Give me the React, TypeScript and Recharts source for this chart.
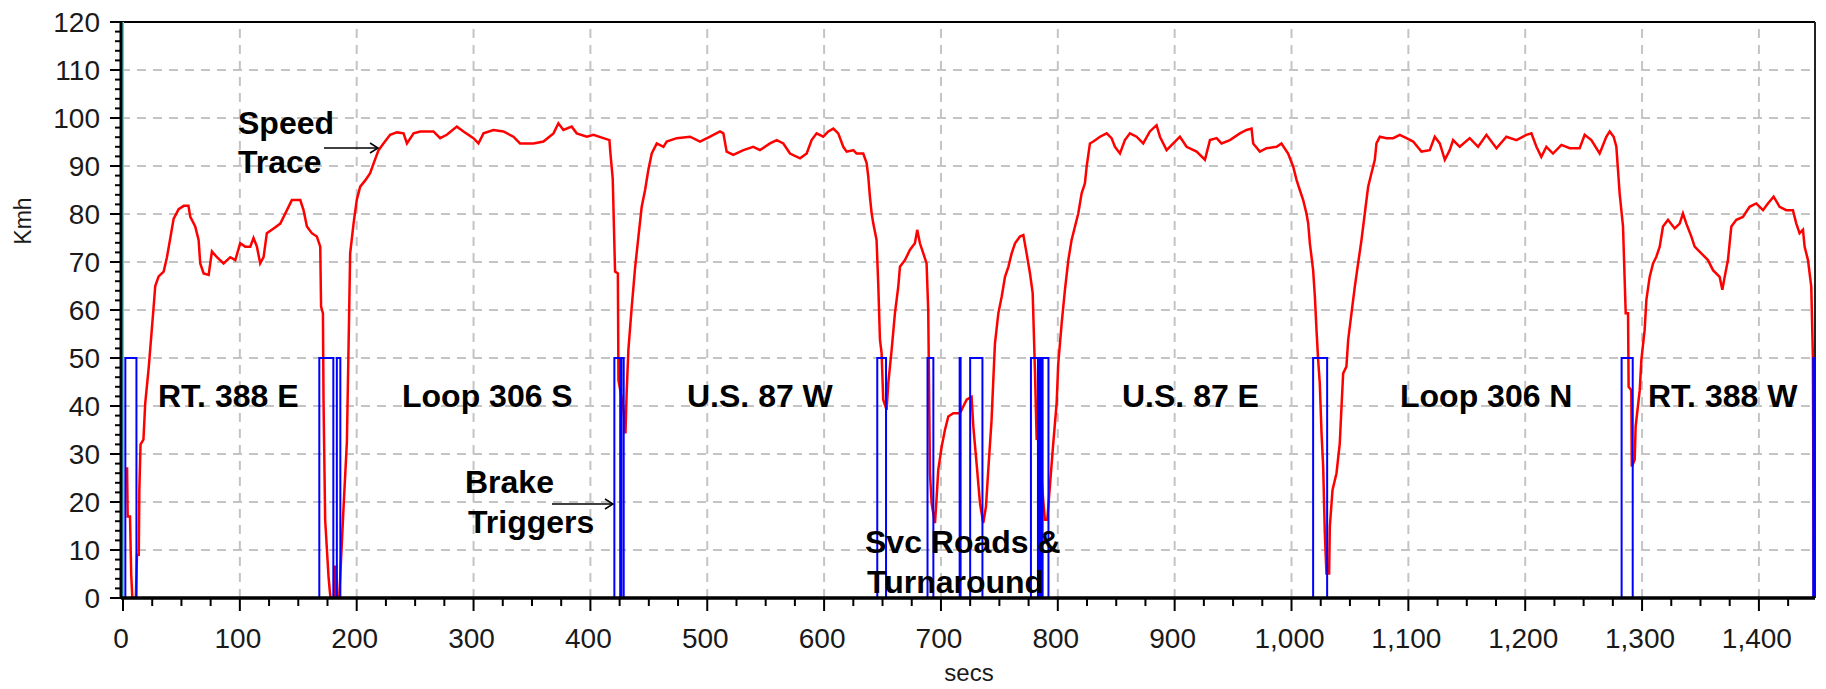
import { LineChart, Line, XAxis, YAxis, ReferenceLine } from 'recharts';

const FONT = "'Liberation Sans', Arial, Helvetica, sans-serif";

// speed trace, [secs, kmh], split by road section
const rt388E: [number, number][] = [
  [2.5, 27], [3.5, 27], [4, 17], [6, 17], [7, 5], [8, 0], [11, 0], [12, 9], [13.5, 9], [14, 22.5],
  [15, 32], [17.5, 33], [19, 40.5], [22, 48], [24, 54], [26, 60], [27.6, 65], [30.5, 67], [34.8, 68],
  [37.6, 71], [40.5, 75], [43.3, 79], [47.6, 81], [52, 81.7], [56, 81.7], [57.6, 79.4], [61.8, 77.4],
  [64.7, 74.6], [66.1, 69.7], [69, 67.6], [73.3, 67.3], [76.1, 72.2], [80.4, 71], [86.1, 69.7],
  [91.8, 71], [96.1, 70.4], [100.3, 73.9], [104.6, 73.2], [108.9, 73.2], [111.7, 75], [114.6, 73.2],
  [117.4, 69.7], [120.3, 71], [123.1, 76], [128.9, 77], [134.6, 78], [140.3, 80.8], [144.5, 82.9],
  [151.7, 82.9], [154.5, 80.8], [157.4, 77.4], [161.6, 76], [165.9, 75.3], [168.8, 73.2], [169.5, 60.7],
  [171.1, 59.3], [171.6, 41.3], [173, 16.3], [175.9, 4.4], [177, 1.4], [177.6, 0], [181, 0], [181.6, 6.5],
  [182.5, 6.5], [182.8, 0], [185, 0], [185.9, 4.4], [188.7, 18.7], [191.6, 32.5], [193, 52], [194.4, 71.8],
  [197.3, 78],
];

const loop306S: [number, number][] = [
  [200.1, 83], [203, 85.7], [207.3, 87], [211.5, 88.5], [214.4, 90.5], [218.7, 93.3], [222.9, 94.7],
  [228.6, 96.5], [234.4, 97], [240.1, 96.8], [243, 94.7], [248.7, 96.8], [254.3, 97.2], [265.7, 97.2],
  [271.4, 95.8], [277.1, 96.5], [285.7, 98.2], [291.4, 97.2], [299.9, 95.8], [304.2, 94.7], [308.5, 96.8],
  [317, 97.5], [325.6, 97.2], [334.1, 96.1], [339.8, 94.7], [351.3, 94.7], [359.8, 95.1], [368.4, 96.8],
  [372.6, 98.9], [376.9, 97.5], [384, 98.2], [388.3, 96.8], [396.9, 96.1], [402.6, 96.5], [411.1, 95.8],
  [416.3, 95.4], [417, 93], [419.1, 87.4], [421.1, 68], [423.5, 67.6], [424, 45.4], [428, 40], [430, 34.3],
  [431, 42.6], [432.5, 51.7], [435.4, 60.7], [438.2, 68.7], [441.1, 75.3], [443.9, 81.5], [446.8, 85],
  [449.6, 89.2], [452.5, 92.6], [456.8, 94.7],
];

const us87W: [number, number][] = [
  [462.5, 94], [465.3, 95.1], [473.9, 95.8], [485.3, 96.1], [493.8, 95.1], [502.4, 96.1], [510.9, 97.2],
  [513.8, 96.8], [516.6, 93], [522.3, 92.3], [530.9, 93.3], [539.4, 94], [545.1, 93.3], [553.7, 94.7],
  [559.4, 95.4], [565.1, 94.7], [570.8, 92.6], [579.4, 91.6], [585.1, 92.6], [589.3, 95.4], [593.6, 96.8],
  [599.3, 96.1], [603.6, 97.2], [607.9, 97.8], [612.1, 96.8], [616.4, 94], [619.3, 93], [625, 93.3],
  [627.8, 92.6], [633.5, 92.6], [636.4, 90.6], [637.8, 87.8], [639.2, 83.6], [640.7, 80.1], [642.1, 78],
  [644.9, 74.6],
];

const svcRoads: [number, number][] = [
  [646.4, 64.9], [647.8, 53.8], [649.2, 51], [650.6, 41.3], [653.5, 39.2], [654.9, 44.7], [657.8, 51.7],
  [660.6, 59.3], [663.5, 64.9], [664.9, 69], [669.2, 70.4], [673.4, 72.5], [677.7, 73.9], [679.7, 76.7],
  [682, 73.9], [684.9, 71.8], [687.7, 69.7], [689.1, 60], [690.6, 26], [692, 19.7], [694.9, 15.6],
  [696, 19.7], [697.7, 26.7], [700.6, 31.5], [703.4, 35], [706.3, 37.8], [710.6, 38.5], [716.3, 38.5],
  [719.1, 39.9], [722, 41.3], [726.2, 41.9], [727.7, 35.7], [730.5, 28], [733.4, 19.7], [736.2, 15.6],
  [738.5, 19], [740.5, 26.7], [743.3, 37], [744.8, 45.4], [746.2, 53], [749.1, 59.3], [752, 62.8],
  [754.8, 66.9], [757.7, 69], [760.5, 71.8], [763.4, 73.9], [767.6, 75.3], [770.5, 75.6], [773.3, 71.8],
  [776.2, 67.6], [778.5, 63.5], [780.5, 46.8], [781.9, 32.9], [784, 40], [786, 25], [788.9, 16.3],
  [791, 16.3], [793.2, 23.2], [796.1, 32.2], [799, 40.6],
];

const us87E: [number, number][] = [
  [800.4, 48.9], [803.3, 57.2], [806.1, 64.2], [809, 70.4], [811.8, 74.6], [814.7, 77.4], [817.5, 80.1],
  [820.4, 84.3], [823.2, 86.4], [824.7, 89.9], [827.5, 94.7], [830.4, 95.1], [836.1, 96.1], [841.8, 96.8],
  [846, 95.8], [848.9, 94], [853.2, 92.6], [857.4, 95.4], [861.7, 96.8], [867.4, 96.1], [873.1, 94.7],
  [878.8, 97.2], [884.5, 98.5], [887.4, 96.1], [893.1, 93.3], [898.8, 94.7], [904.5, 96.1], [910.2, 94],
  [918.8, 93], [925.9, 91.3], [930.2, 95.4], [935.9, 95.8], [940.1, 94.7], [947.3, 95.4], [955.8, 96.8],
  [961.5, 97.5], [965.8, 97.8], [967.2, 94.7], [972.9, 93], [978.6, 93.7], [987.2, 94], [991.4, 94.7],
  [997.1, 92.6], [1001.4, 89.9], [1004.3, 87.1], [1007.1, 85], [1010, 82.9], [1012.8, 80.1], [1014.3, 78],
  [1015.7, 73.9], [1018.5, 68.3], [1020, 62.8], [1021.4, 55.8], [1022.8, 49.6], [1024.2, 44.7],
  [1025.7, 34.3], [1027.1, 27.4], [1028.5, 13.5], [1029.9, 5.1], [1032.2, 5.1],
];

const loop306N: [number, number][] = [
  [1032.8, 14.9], [1035.1, 22.5], [1038.5, 26], [1041.3, 32.2], [1042.8, 39.9], [1044.2, 46.8],
  [1047, 48.2], [1048.5, 53.8], [1051.3, 59.3], [1054.2, 64.9], [1057, 69.7], [1059.9, 74.6],
  [1062.7, 80.1], [1065.6, 85.7], [1068.4, 88.5], [1071.3, 91.3], [1072.7, 94.7], [1075.6, 96.1],
  [1081.3, 95.8], [1087, 95.8], [1092.7, 96.5], [1098.4, 95.8], [1104.1, 95.1], [1111.2, 93],
  [1118.3, 93.3], [1122.6, 96.1], [1126.9, 94.7], [1131.2, 91.3], [1135.4, 93.3], [1138.3, 95.4],
  [1144, 94], [1152.5, 95.8], [1159.7, 94], [1166.8, 96.5], [1175.4, 93.7], [1183.9, 96.1],
  [1192.5, 95.4], [1201, 96.5], [1205.3, 96.8], [1209.6, 94], [1213.8, 91.9], [1218.1, 94],
  [1223.8, 92.6], [1231, 94.4], [1238.1, 93.7], [1246.6, 93.7], [1250.9, 96.5], [1256.6, 95.4],
  [1263.7, 92.6], [1269.4, 96.1], [1272.3, 97.2], [1275.7, 96.1], [1278, 94], [1279.4, 89.2],
  [1280.8, 84.3], [1283.7, 77.4], [1286, 59.3], [1288, 59.3],
];

const rt388W: [number, number][] = [
  [1288.5, 44], [1290.8, 43.3], [1291.2, 27.4], [1293.7, 28.8], [1294.5, 35.7], [1298, 43.3],
  [1299.4, 49.6], [1302.2, 55.8], [1303.7, 62.1], [1306.5, 66.9], [1309.4, 69.7], [1312.2, 71.1],
  [1315.1, 73.2], [1317.9, 77.4], [1322.2, 78.8], [1327.9, 77], [1332.2, 78], [1335, 80.1],
  [1337.9, 78], [1342.2, 75.3], [1345, 73.2], [1350.7, 71.8], [1356.4, 70.4], [1360.7, 68.3],
  [1366.4, 66.9], [1368.7, 64.2], [1370.7, 66.9], [1373.5, 70.4], [1376.4, 77.4], [1380.7, 78.8],
  [1386.3, 79.4], [1392, 81.5], [1397.7, 82.2], [1403.5, 80.8], [1407.7, 82.2], [1412.6, 83.6],
  [1417.7, 81.5], [1423.4, 80.8], [1429.1, 80.8], [1432, 78], [1434.8, 76], [1437.7, 76.7],
  [1439.1, 73.2], [1442, 70.4], [1444.8, 64.9], [1446.2, 50.3], [1447, 0],
];

// brake trigger pulses (secs on / secs off), drawn at a fixed level
const brakeOn = [2, 168, 183, 420.5, 426.5, 645.5, 688.5, 716, 725, 777, 784.5, 787, 1018.5, 1282.5, 1446.5];
const brakeOff = [11.5, 180, 186, 425.5, 428.5, 653, 693.5, 716.8, 735.5, 783, 786, 792, 1030.5, 1292, 1448];
const brakeLevel = 50;

const xMax = 1448;
const xGrid = [100, 200, 300, 400, 500, 600, 700, 800, 900, 1000, 1100, 1200, 1300, 1400];
const yGrid = [10, 20, 30, 40, 50, 60, 70, 80, 90, 100, 110];

const sectionLabels = ['RT. 388 E', 'Loop 306 S', 'U.S. 87 W', 'U.S. 87 E', 'Loop 306 N', 'RT. 388 W'];

const speedData = [...rt388E, ...loop306S, ...us87W, ...svcRoads, ...us87E, ...loop306N, ...rt388W].map(
  ([secs, kmh]) => ({ secs, kmh })
);

const brakeData: { secs: number; kmh: number }[] = [{ secs: 0, kmh: 0 }];
brakeOn.forEach((s, i) => {
  brakeData.push({ secs: s, kmh: brakeLevel });
  brakeData.push({ secs: brakeOff[i], kmh: 0 });
});

const xTicks: number[] = [];
for (let v = 0; v < xMax; v += 25) xTicks.push(v);
const yTicks: number[] = [];
for (let v = 0; v <= 120; v += 2) yTicks.push(v);

const XTick = ({ x, y, payload }: any) => {
  const major = payload.value % 100 === 0;
  return (
    <g>
      <line x1={x} y1={y} x2={x} y2={y + (major ? 13 : 8)} stroke="#000" strokeWidth={2} />
      {major && (
        <text x={x - 2} y={y + 50} textAnchor="middle" fontSize={28} fontFamily={FONT} fill="#1a1a1a">
          {payload.value.toLocaleString('en-US')}
        </text>
      )}
    </g>
  );
};

const YTick = ({ x, y, payload }: any) => {
  const major = payload.value % 10 === 0;
  return (
    <g>
      <line x1={x} y1={y} x2={x - (major ? 11 : 6)} y2={y} stroke="#000" strokeWidth={2} />
      {major && (
        <text x={x - 21} y={y} dy="0.36em" textAnchor="end" fontSize={28} fontFamily={FONT} fill="#1a1a1a">
          {payload.value}
        </text>
      )}
    </g>
  );
};

const boldText = { fontSize: 32, fontWeight: 700, fontFamily: FONT, fill: '#000' } as const;
const sectionX = [158, 402, 687, 1122, 1400, 1648];

export default function App() {
  return (
    <div style={{ position: 'absolute', left: 0, top: 0, width: 1826, height: 689, background: '#fff' }}>
      <LineChart width={1826} height={689} margin={{ top: 22, right: 11, bottom: 0, left: 0 }}>
        <XAxis
          type="number"
          dataKey="secs"
          domain={[0, xMax]}
          ticks={xTicks}
          interval={0}
          padding={{ left: 2, right: 0 }}
          height={91}
          tickSize={0}
          tickMargin={0}
          tickLine={false}
          axisLine={{ stroke: '#000', strokeWidth: 3 }}
          tick={(p: any) => <XTick {...p} />}
          allowDataOverflow
        />
        <YAxis
          type="number"
          domain={[0, 120]}
          ticks={yTicks}
          interval={0}
          width={121}
          tickSize={0}
          tickMargin={0}
          tickLine={false}
          axisLine={{ stroke: '#000', strokeWidth: 3 }}
          tick={(p: any) => <YTick {...p} />}
          allowDataOverflow
        />
        {xGrid.map((v) => (
          <ReferenceLine key={'gx' + v} x={v} stroke="#c4c4c4" strokeWidth={2} strokeDasharray="9 7" />
        ))}
        {yGrid.map((v) => (
          <ReferenceLine key={'gy' + v} y={v} stroke="#c4c4c4" strokeWidth={2} strokeDasharray="9 7" />
        ))}
        <ReferenceLine y={120} stroke="#000" strokeWidth={2} />
        <ReferenceLine x={xMax} stroke="#222" strokeWidth={2} />
        <ReferenceLine x={0} stroke="#33e2e8" strokeWidth={2} />
        <Line
          data={speedData}
          dataKey="kmh"
          type="linear"
          stroke="#ff0000"
          strokeWidth={2.5}
          dot={false}
          isAnimationActive={false}
        />
        <Line
          data={brakeData}
          dataKey="kmh"
          type="stepAfter"
          stroke="#0000ff"
          strokeWidth={2}
          dot={false}
          isAnimationActive={false}
        />
        <ReferenceLine y={0} stroke="#000" strokeWidth={3} />
      </LineChart>
      <svg
        width={1826}
        height={689}
        style={{ position: 'absolute', left: 0, top: 0, pointerEvents: 'none' }}
      >
        {sectionLabels.map((t, i) => (
          <text key={t} x={sectionX[i]} y={407} {...boldText}>
            {t}
          </text>
        ))}
        <text x={238} y={134} {...boldText}>Speed</text>
        <text x={238} y={173} {...boldText}>Trace</text>
        <line x1={324} y1={148} x2={378} y2={148} stroke="#000" strokeWidth={1.5} />
        <path d="M370,143 L378,148 L370,153" fill="none" stroke="#000" strokeWidth={1.5} />

        <text x={465} y={493} {...boldText}>Brake</text>
        <text x={468} y={533} {...boldText}>Triggers</text>
        <line x1={552} y1={504} x2={613} y2={504} stroke="#000" strokeWidth={1.5} />
        <path d="M605,499 L613,504 L605,509" fill="none" stroke="#000" strokeWidth={1.5} />

        <text x={865} y={553} {...boldText}>Svc Roads &amp;</text>
        <text x={867} y={593} {...boldText}>Turnaround</text>

        <text x={31} y={221} fontSize={23} fontFamily={FONT} fill="#1a1a1a" textAnchor="middle" transform="rotate(-90 31 221)">
          Kmh
        </text>
        <text x={969} y={681} fontSize={24} fontFamily={FONT} fill="#1a1a1a" textAnchor="middle">
          secs
        </text>
      </svg>
    </div>
  );
}
